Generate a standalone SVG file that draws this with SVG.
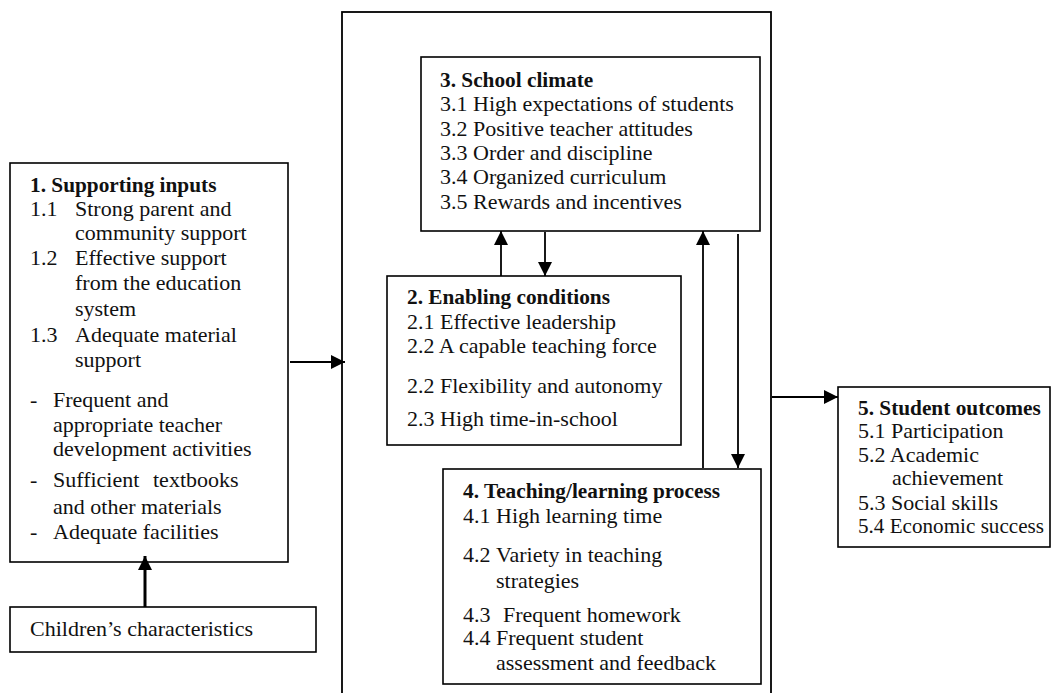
<svg xmlns="http://www.w3.org/2000/svg" width="1051" height="693" viewBox="0 0 1051 693">
  <style>
    .box { fill: #fff; stroke: #000; stroke-width: 1.6; }
    .frame { fill: none; stroke: #000; stroke-width: 1.8; }
    text { font-family: "Liberation Serif", "Times New Roman", serif; font-size: 22px; fill: #111; }
    .h { font-weight: bold; font-size: 21.3px; }
    .link { stroke: #000; stroke-width: 1.8; fill: none; }
    .thick { stroke-width: 3; }
  </style>
  <defs>
    <marker id="arrow" markerUnits="userSpaceOnUse" markerWidth="16" markerHeight="16" viewBox="0 0 16 16" refX="15" refY="8" orient="auto">
      <path d="M1,1 L15,8 L1,15 Z" fill="#000"/>
    </marker>
  </defs>
  <rect width="1051" height="693" fill="#fff"/>

  <!-- outer school frame -->
  <rect id="school-frame" class="frame" x="342" y="12" width="429" height="700"/>

  <g id="supporting-inputs">
    <rect class="box" x="10" y="163" width="278" height="399"/>
    <text class="h" x="30" y="192">1. Supporting inputs</text>
    <text x="30" y="216">1.1</text>
    <text x="75" y="216">Strong parent and</text>
    <text x="75" y="240">community support</text>
    <text x="30" y="265">1.2</text>
    <text x="75" y="265">Effective support</text>
    <text x="75" y="290">from the education</text>
    <text x="75" y="316">system</text>
    <text x="30" y="342">1.3</text>
    <text x="75" y="342">Adequate material</text>
    <text x="75" y="367">support</text>
    <text x="30" y="407">-</text>
    <text x="53" y="407">Frequent and</text>
    <text x="53" y="432">appropriate teacher</text>
    <text x="53" y="456">development activities</text>
    <text x="30" y="487">-</text>
    <text x="53" y="487">Sufficient</text>
    <text x="153" y="487">textbooks</text>
    <text x="53" y="514">and other materials</text>
    <text x="30" y="539">-</text>
    <text x="53" y="539">Adequate facilities</text>
  </g>

  <g id="childrens-characteristics">
    <rect class="box" x="10" y="607" width="306" height="45"/>
    <text x="30" y="636">Children’s characteristics</text>
  </g>

  <g id="school-climate">
    <rect class="box" x="421" y="57" width="339" height="174"/>
    <text class="h" x="440" y="87">3. School climate</text>
    <text x="440" y="111">3.1 High expectations of students</text>
    <text x="440" y="136">3.2 Positive teacher attitudes</text>
    <text x="440" y="160">3.3 Order and discipline</text>
    <text x="440" y="184">3.4 Organized curriculum</text>
    <text x="440" y="209">3.5 Rewards and incentives</text>
  </g>

  <g id="enabling-conditions">
    <rect class="box" x="387" y="276" width="294" height="169"/>
    <text class="h" x="407" y="304">2. Enabling conditions</text>
    <text x="407" y="329">2.1 Effective leadership</text>
    <text x="407" y="353">2.2 A capable teaching force</text>
    <text x="407" y="393">2.2 Flexibility and autonomy</text>
    <text x="407" y="426">2.3 High time-in-school</text>
  </g>

  <g id="teaching-learning">
    <rect class="box" x="443" y="469" width="318" height="215"/>
    <text class="h" x="463" y="498">4. Teaching/learning process</text>
    <text x="463" y="523">4.1</text>
    <text x="496" y="523">High learning time</text>
    <text x="463" y="562">4.2</text>
    <text x="496" y="562">Variety in teaching</text>
    <text x="496" y="588">strategies</text>
    <text x="463" y="622">4.3</text>
    <text x="503" y="622">Frequent homework</text>
    <text x="463" y="645">4.4</text>
    <text x="496" y="645">Frequent student</text>
    <text x="496" y="670">assessment and feedback</text>
  </g>

  <g id="student-outcomes">
    <rect class="box" x="838" y="387" width="212" height="160"/>
    <text class="h" x="858" y="415">5. Student outcomes</text>
    <text x="858" y="438">5.1 Participation</text>
    <text x="858" y="462">5.2 Academic</text>
    <text x="892" y="485">achievement</text>
    <text x="858" y="510">5.3 Social skills</text>
    <text x="858" y="533" textLength="186" lengthAdjust="spacingAndGlyphs">5.4 Economic success</text>
  </g>

  <g id="connectors">
    <line class="link" x1="290" y1="362" x2="345" y2="362" marker-end="url(#arrow)"/>
    <line class="link thick" x1="145" y1="607" x2="145" y2="556" marker-end="url(#arrow)"/>
    <line class="link" x1="501" y1="276" x2="501" y2="231" marker-end="url(#arrow)"/>
    <line class="link" x1="545" y1="232" x2="545" y2="276" marker-end="url(#arrow)"/>
    <line class="link" x1="703" y1="468" x2="703" y2="231" marker-end="url(#arrow)"/>
    <line class="link" x1="738" y1="234" x2="738" y2="468" marker-end="url(#arrow)"/>
    <line class="link" x1="772" y1="397" x2="838" y2="397" marker-end="url(#arrow)"/>
  </g>
</svg>
